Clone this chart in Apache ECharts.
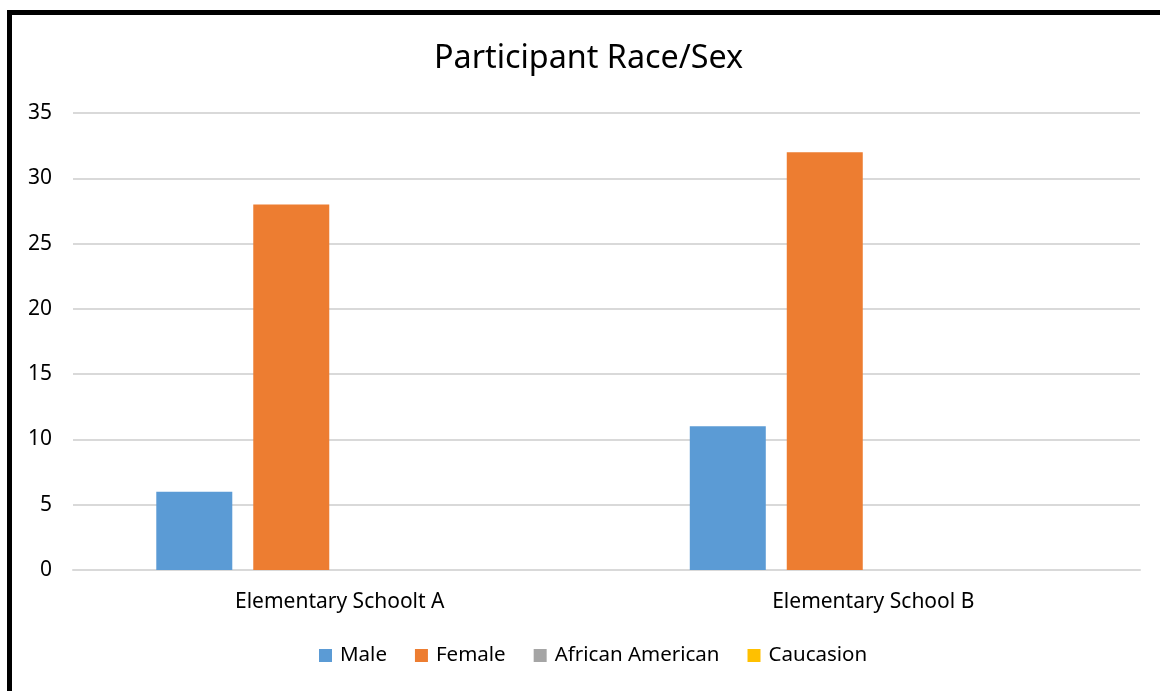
<!DOCTYPE html>
<html>
<head>
<meta charset="utf-8">
<script src="https://cdn.jsdelivr.net/npm/echarts@6/dist/echarts.min.js"></script>
<style>
  html, body { margin: 0; padding: 0; background: #fff; }
  body { width: 1160px; height: 691px; overflow: hidden; position: relative; }
  #frame { position: absolute; left: 7px; top: 10px; width: 1200px; height: 720px; border: 5px solid #000; box-sizing: border-box; }
  #chart { position: absolute; left: 0; top: 0; width: 1160px; height: 691px; }
</style>
</head>
<body>
<div id="frame"></div>
<div id="chart"></div>
<script>
// Participant counts per school
const categories = ['Elementary Schoolt A', 'Elementary School B'];
const seriesNames = ['Male', 'Female', 'African American', 'Caucasion'];
const male = [6, 11];
const female = [28, 32];
const africanAmerican = [0, 0];
const caucasion = [0, 0];
const yTicks = [0, 5, 10, 15, 20, 25, 30, 35];

const colors = ['#5B9BD5', '#ED7D31', '#A5A5A5', '#FFC000'];
const values = [male, female, africanAmerican, caucasion];
const font = 'Noto Sans';

const chart = echarts.init(document.getElementById('chart'), null, { renderer: 'canvas' });
chart.setOption({
  animation: false,
  backgroundColor: 'transparent',
  title: {
    text: 'Participant Race/Sex',
    left: 429,
    top: 38,
    textStyle: { fontFamily: font, fontSize: 32.3, fontWeight: 'normal', color: '#000' }
  },
  legend: {
    data: seriesNames,
    bottom: 20,
    left: 314,
    icon: 'rect',
    itemWidth: 13,
    itemHeight: 13,
    itemGap: 28,
    textStyle: { fontFamily: font, fontSize: 20.5, color: '#000', padding: [0, 0, 0, 3] }
  },
  grid: { left: 73, right: 20, top: 113, bottom: 121, containLabel: false },
  xAxis: {
    type: 'category',
    data: categories,
    axisLine: { show: true, lineStyle: { color: '#D9D9D9', width: 2 } },
    axisTick: { show: false },
    axisLabel: { fontFamily: font, fontSize: 21, color: '#000', margin: 22 }
  },
  yAxis: {
    type: 'value',
    min: yTicks[0],
    max: yTicks[yTicks.length - 1],
    interval: 5,
    axisLine: { show: false },
    axisTick: { show: false },
    axisLabel: { fontFamily: font, fontSize: 21, color: '#000', margin: 21 },
    splitLine: { lineStyle: { color: '#D9D9D9', width: 2 } }
  },
  series: seriesNames.map((name, i) => ({
    name: name,
    type: 'bar',
    data: values[i],
    barWidth: 76,
    barGap: '27.6%',
    itemStyle: { color: colors[i] }
  }))
});
</script>
</body>
</html>
